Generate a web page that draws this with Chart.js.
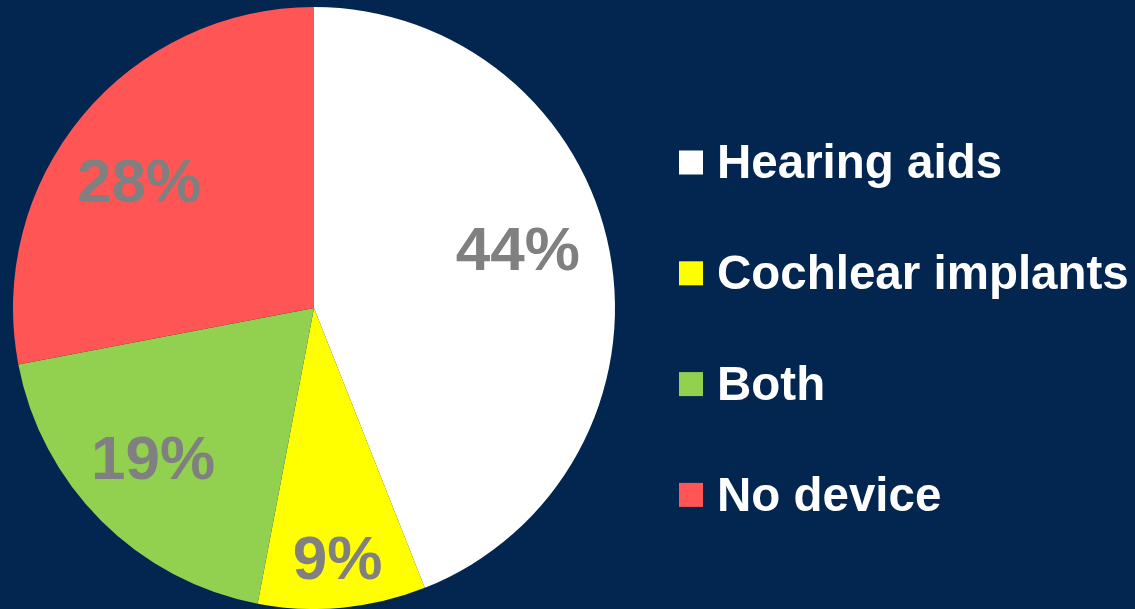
<!DOCTYPE html>
<html>
<head>
<meta charset="utf-8">
<script src="https://cdn.jsdelivr.net/npm/chart.js@4/dist/chart.umd.min.js"></script>
<style>
  html, body { margin: 0; padding: 0; background: #02264f; }
  #wrap { width: 1135px; height: 609px; position: relative; }
</style>
</head>
<body>
<div id="wrap"><canvas id="c" width="1135" height="609"></canvas></div>
<script>
// Share of respondents by hearing device
const categories = ['Hearing aids', 'Cochlear implants', 'Both', 'No device'];
const shares = [44, 9, 19, 28];
const sliceColors = ['#ffffff', '#ffff00', '#92d050', '#ff5555'];

const FONT = '"Liberation Sans", Arial, sans-serif';

// Percentage labels placed inside each slice near its mid-angle
const sliceLabels = {
  id: 'sliceLabels',
  afterDatasetsDraw(chart, args, opts) {
    const ctx = chart.ctx;
    const meta = chart.getDatasetMeta(0);
    ctx.save();
    ctx.font = `bold ${opts.size}px ${FONT}`;
    ctx.fillStyle = opts.color;
    ctx.textAlign = 'center';
    ctx.textBaseline = 'alphabetic';
    meta.data.forEach((arc, i) => {
      const p = arc.getProps(['x', 'y', 'startAngle', 'endAngle', 'outerRadius'], true);
      const mid = (p.startAngle + p.endAngle) / 2 + opts.turn[i] * Math.PI / 180;
      const r = p.outerRadius * opts.radial[i];
      const x = p.x + Math.cos(mid) * r;
      const y = p.y + Math.sin(mid) * r;
      ctx.fillText(shares[i] + '%', x, y + opts.size * 0.358);
    });
    ctx.restore();
  }
};

// Square-marker legend drawn to the right of the pie
const sideLegend = {
  id: 'sideLegend',
  afterDraw(chart, args, opts) {
    const ctx = chart.ctx;
    ctx.save();
    ctx.font = `bold ${opts.size}px ${FONT}`;
    ctx.textAlign = 'left';
    ctx.textBaseline = 'alphabetic';
    categories.forEach((name, i) => {
      const cy = opts.top + i * opts.step;
      ctx.fillStyle = sliceColors[i];
      ctx.fillRect(opts.x, cy - opts.box / 2, opts.box, opts.box);
      ctx.fillStyle = '#ffffff';
      ctx.fillText(name, opts.x + opts.box + opts.gap, cy + opts.size * 0.33);
    });
    ctx.restore();
  }
};

new Chart(document.getElementById('c'), {
  type: 'pie',
  data: {
    labels: categories,
    datasets: [{
      data: shares,
      backgroundColor: sliceColors,
      borderWidth: 0
    }]
  },
  options: {
    responsive: false,
    animation: false,
    layout: { padding: { left: 13, top: 7, right: 520, bottom: 0 } },
    plugins: {
      legend: { display: false },
      tooltip: { enabled: false },
      sliceLabels: {
        size: 62, color: '#808080',
        radial: [0.706, 0.83, 0.729, 0.72],
        turn: [-5.6, 0, 2.2, -3.4]
      },
      sideLegend: { x: 679, top: 162.5, step: 110.8, box: 24, gap: 14, size: 47.5 }
    }
  },
  plugins: [sliceLabels, sideLegend]
});
</script>
</body>
</html>
